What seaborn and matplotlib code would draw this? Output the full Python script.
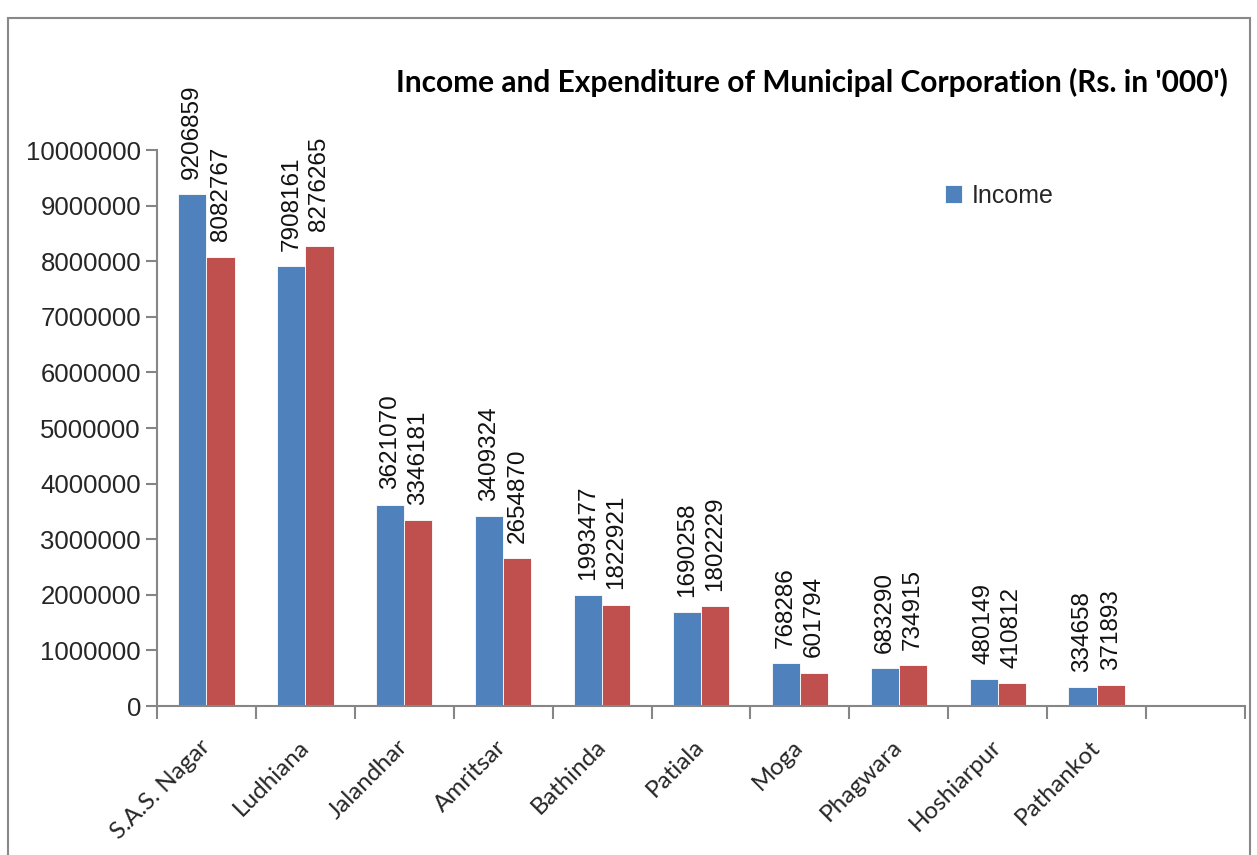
import pandas as pd
import matplotlib.pyplot as plt
import matplotlib.patches as patches
import seaborn as sns

# data (Rs. in '000)
cities = ["S.A.S. Nagar", "Ludhiana", "Jalandhar", "Amritsar", "Bathinda",
          "Patiala", "Moga", "Phagwara", "Hoshiarpur", "Pathankot"]
income = [9206859, 7908161, 3621070, 3409324, 1993477, 1690258, 768286, 683290, 480149, 334658]
expenditure = [8082767, 8276265, 3346181, 2654870, 1822921, 1802229, 601794, 734915, 410812, 371893]

df = pd.DataFrame({
    "City": cities * 2,
    "Value": income + expenditure,
    "Series": ["Income"] * len(cities) + ["Expenditure"] * len(cities),
})

sns.set_theme(style="white")
plt.rcParams['font.family'] = ['Liberation Sans', 'DejaVu Sans']

fig = plt.figure(figsize=(12.57, 8.55), dpi=100)
ax = fig.add_axes([157 / 1257, 1 - 706 / 855, (1245 - 157) / 1257, (706 - 150) / 855])

sns.barplot(data=df, x="City", y="Value", hue="Series", order=cities,
            palette=["#4F81BD", "#C0504D"], width=0.57, saturation=1,
            edgecolor="white", linewidth=0.6, ax=ax)

for cont in ax.containers:
    ax.bar_label(cont, fmt="%d", rotation=90, padding=11, fontsize=17.5, color="#111111")

# layout: one empty slot on the right like the original
ax.set_xlim(-0.5, len(cities) + 0.5)
ax.set_ylim(0, 10000000)
ax.set_yticks(range(0, 10000001, 1000000))
ax.set_yticklabels([str(v) for v in range(0, 10000001, 1000000)], fontsize=18.5)
ax.set_xlabel("")
ax.set_ylabel("")

ax.set_xticks(range(len(cities)))
ax.set_xticklabels(cities, rotation=45, ha="right", va="center", rotation_mode="anchor",
                   fontsize=17.5, family=["Lato", "DejaVu Sans"])
ax.tick_params(axis="x", which="major", length=0, pad=27)
ax.set_xticks([i - 0.5 for i in range(len(cities) + 2)], minor=True)
ax.tick_params(axis="x", which="minor", bottom=True, length=9, color="#868686",
               width=1.5, direction="out")
ax.tick_params(axis="y", length=8, color="#868686", width=1.5, direction="out", left=True)

for s in ["top", "right"]:
    ax.spines[s].set_visible(False)
for s in ["left", "bottom"]:
    ax.spines[s].set_color("#868686")
    ax.spines[s].set_linewidth(1.5)

handles, labels = ax.get_legend_handles_labels()
ax.legend(handles=[handles[0]], labels=["Income"], loc="center left",
          bbox_to_anchor=(922 / 1257, 1 - 196 / 855), bbox_transform=fig.transFigure,
          frameon=False, fontsize=18, handlelength=0.7, handleheight=0.7, handletextpad=0.4)

fig.text(1228 / 1257, 1 - 82 / 855, "Income and Expenditure of Municipal Corporation (Rs. in '000')",
         ha="right", va="center", fontsize=21.5, fontweight="bold", color="black",
         family=["Liberation Sans Narrow", "Lato", "DejaVu Sans"])

fig.patches.append(patches.Rectangle((8 / 1257, -0.05), 1242 / 1257, 1.05 - 18 / 855,
                                     transform=fig.transFigure, fill=False,
                                     edgecolor="#888888", linewidth=1.5))

fig.savefig("out.png", dpi=100)
